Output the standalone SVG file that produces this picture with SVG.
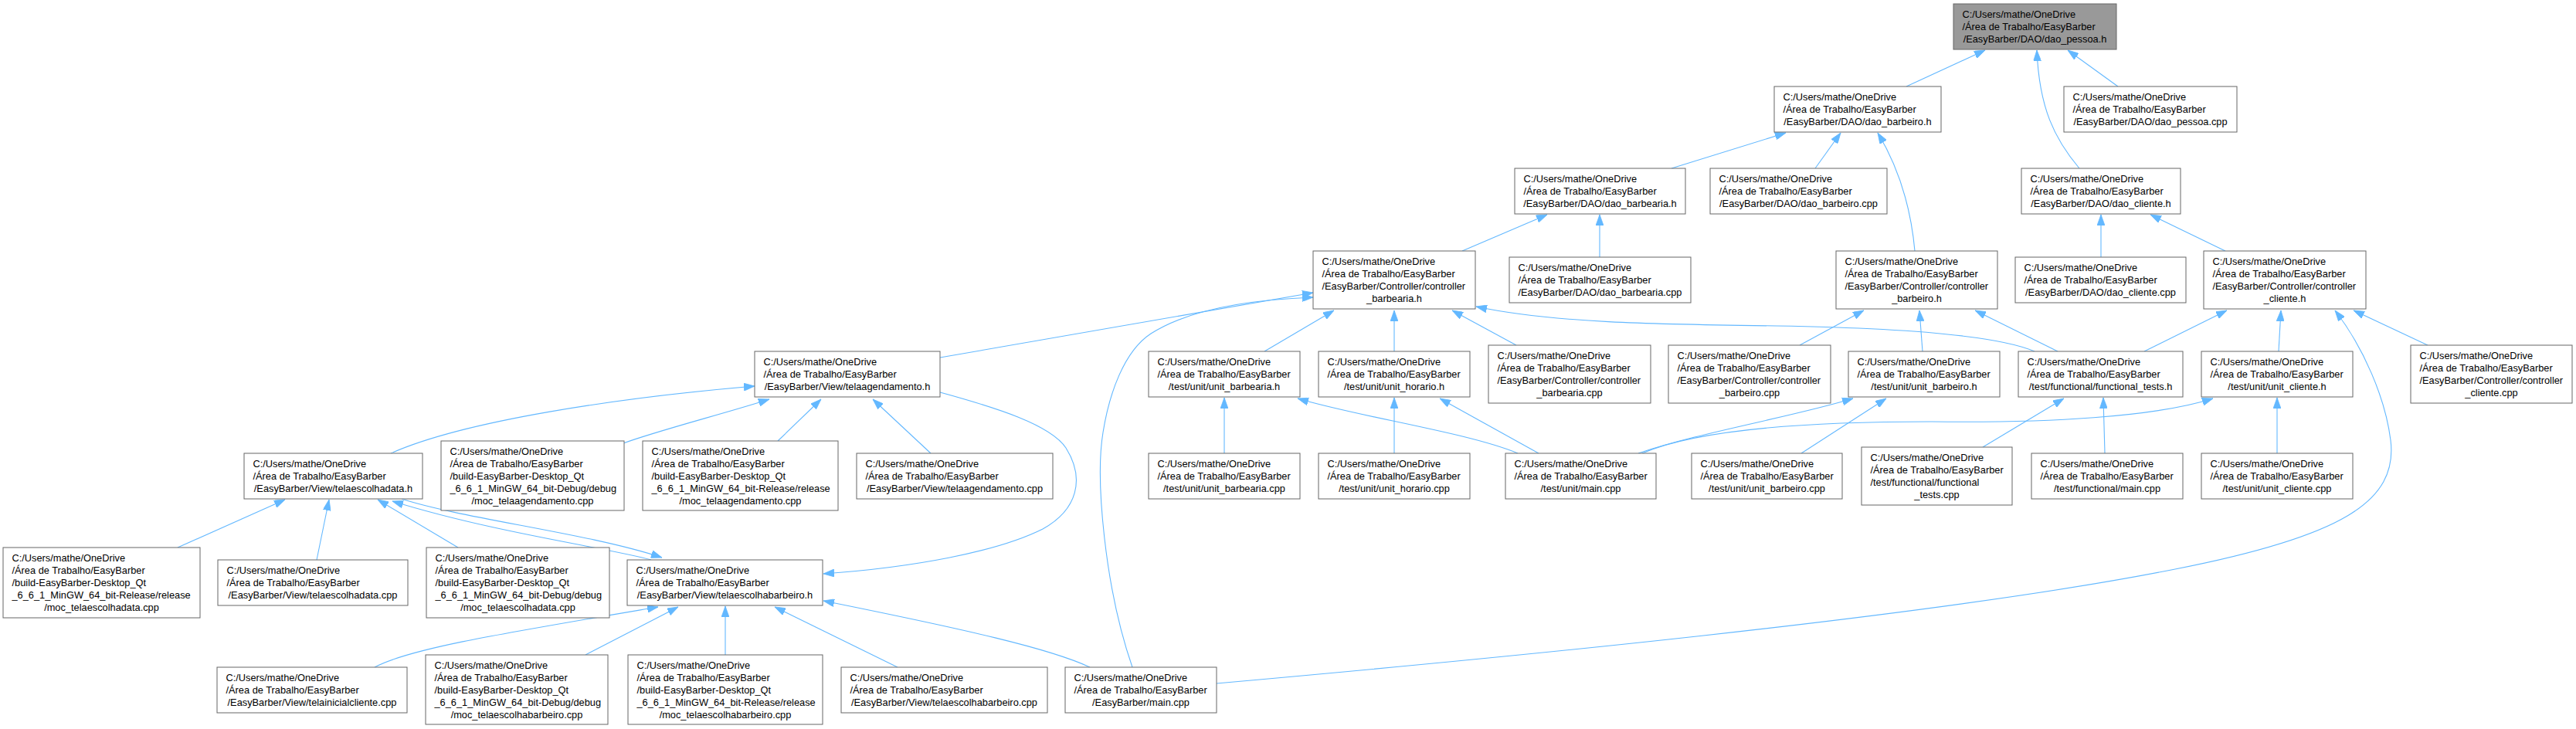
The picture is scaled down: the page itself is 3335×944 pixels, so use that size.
<svg xmlns="http://www.w3.org/2000/svg" width="3335" height="944" viewBox="0 0 3335 944">
<style>
.n rect{fill:#fff;stroke:#666;stroke-width:1}
#n0 rect{fill:#999}
.n text{font-family:"Liberation Sans",Arial,Helvetica,sans-serif;font-size:12.8px;fill:#000}
.n text.c{text-anchor:middle}
#edges path{fill:none;stroke:#63b8ff;stroke-width:1.1;marker-end:url(#ah)}
</style>
<defs>
<marker id="ah" viewBox="0 0 14 10" refX="14" refY="5" markerWidth="14" markerHeight="10" orient="auto" markerUnits="userSpaceOnUse"><path d="M0,0 L14,5 L0,10 z" fill="#63b8ff" stroke="#63b8ff" stroke-width="0.8"/></marker>
</defs>
<rect width="3335" height="944" fill="#fff"/>
<g id="edges">
<path d="M2468,112 L2570,65"/>
<path d="M2692,218 C2660,180 2640,140 2637,65"/>
<path d="M2742,112 L2677,65"/>
<path d="M2164,218 L2312,172"/>
<path d="M2350,218 L2383,172"/>
<path d="M2479,325 C2474,270 2460,220 2431,172"/>
<path d="M1893,325 L2003,278"/>
<path d="M2071,333 L2071,278"/>
<path d="M2720,333 L2720,278"/>
<path d="M2881,325 L2784,278"/>
<path d="M1217,463 L1700,379"/>
<path d="M1466,864 C1430,760 1418,620 1428,560 C1436,510 1455,455 1490,432 C1540,400 1620,388 1700,385"/>
<path d="M1637,455 L1727,402"/>
<path d="M1805,455 L1805,402"/>
<path d="M1963,447 L1880,402"/>
<path d="M2634,455 C2590,436 2480,425 2300,422 C2140,420 2010,418 1911,397"/>
<path d="M2330,447 L2413,402"/>
<path d="M2489,455 L2485,402"/>
<path d="M2664,455 L2557,402"/>
<path d="M2776,455 L2883,402"/>
<path d="M2950,455 L2953,402"/>
<path d="M3143,447 L3047,402"/>
<path d="M1575,885 C1900,856 2500,800 2816,737 C3030,695 3105,650 3095,570 C3088,515 3060,450 3023,402"/>
<path d="M506,587 C600,545 800,515 977,500"/>
<path d="M807,574 C850,558 940,535 996,517"/>
<path d="M1007,571 L1063,517"/>
<path d="M1205,587 L1130,517"/>
<path d="M1217,508 C1290,528 1360,550 1380,580 C1405,620 1395,660 1350,685 C1290,715 1180,735 1066,743"/>
<path d="M843,725 C790,710 640,690 508,649"/>
<path d="M520,646 C600,672 760,690 857,722"/>
<path d="M230,709 L369,647"/>
<path d="M410,725 L426,647"/>
<path d="M593,709 L489,647"/>
<path d="M485,864 C530,840 640,822 852,786"/>
<path d="M758,848 L878,786"/>
<path d="M939,848 L939,785"/>
<path d="M1162,864 L1003,786"/>
<path d="M1411,864 C1360,840 1250,815 1066,778"/>
<path d="M1585,587 L1585,515"/>
<path d="M1965,587 C1900,560 1760,540 1680,516"/>
<path d="M1805,587 L1805,515"/>
<path d="M1992,587 L1864,516"/>
<path d="M2121,587 C2200,560 2320,540 2399,516"/>
<path d="M2332,587 L2442,516"/>
<path d="M2126,587 C2200,555 2350,546 2500,546 C2650,548 2790,540 2865,516"/>
<path d="M2567,579 L2672,516"/>
<path d="M2725,587 L2723,515"/>
<path d="M2948,587 L2948,515"/>
</g>
<g id="n0" class="n"><rect x="2529" y="5" width="211" height="59"/><text x="2540.5" y="23">C:/Users/mathe/OneDrive</text><text x="2540.5" y="39">/Área de Trabalho/EasyBarber</text><text class="c" x="2634.5" y="55">/EasyBarber/DAO/dao_pessoa.h</text></g>
<g id="n1" class="n"><rect x="2297" y="112" width="216" height="59"/><text x="2308.5" y="130">C:/Users/mathe/OneDrive</text><text x="2308.5" y="146">/Área de Trabalho/EasyBarber</text><text class="c" x="2405" y="162">/EasyBarber/DAO/dao_barbeiro.h</text></g>
<g id="n2" class="n"><rect x="2672" y="112" width="224" height="59"/><text x="2683.5" y="130">C:/Users/mathe/OneDrive</text><text x="2683.5" y="146">/Área de Trabalho/EasyBarber</text><text class="c" x="2784" y="162">/EasyBarber/DAO/dao_pessoa.cpp</text></g>
<g id="n3" class="n"><rect x="1961" y="218" width="221" height="59"/><text x="1972.5" y="236">C:/Users/mathe/OneDrive</text><text x="1972.5" y="252">/Área de Trabalho/EasyBarber</text><text class="c" x="2071.5" y="268">/EasyBarber/DAO/dao_barbearia.h</text></g>
<g id="n4" class="n"><rect x="2214" y="218" width="229" height="59"/><text x="2225.5" y="236">C:/Users/mathe/OneDrive</text><text x="2225.5" y="252">/Área de Trabalho/EasyBarber</text><text class="c" x="2328.5" y="268">/EasyBarber/DAO/dao_barbeiro.cpp</text></g>
<g id="n5" class="n"><rect x="2617" y="218" width="206" height="59"/><text x="2628.5" y="236">C:/Users/mathe/OneDrive</text><text x="2628.5" y="252">/Área de Trabalho/EasyBarber</text><text class="c" x="2720" y="268">/EasyBarber/DAO/dao_cliente.h</text></g>
<g id="n6" class="n"><rect x="1700" y="325" width="210" height="75"/><text x="1711.5" y="343">C:/Users/mathe/OneDrive</text><text x="1711.5" y="359">/Área de Trabalho/EasyBarber</text><text x="1711.5" y="375">/EasyBarber/Controller/controller</text><text class="c" x="1805" y="391">_barbearia.h</text></g>
<g id="n7" class="n"><rect x="1954" y="333" width="235" height="59"/><text x="1965.5" y="351">C:/Users/mathe/OneDrive</text><text x="1965.5" y="367">/Área de Trabalho/EasyBarber</text><text class="c" x="2071.5" y="383">/EasyBarber/DAO/dao_barbearia.cpp</text></g>
<g id="n8" class="n"><rect x="2377" y="325" width="209" height="75"/><text x="2388.5" y="343">C:/Users/mathe/OneDrive</text><text x="2388.5" y="359">/Área de Trabalho/EasyBarber</text><text x="2388.5" y="375">/EasyBarber/Controller/controller</text><text class="c" x="2481.5" y="391">_barbeiro.h</text></g>
<g id="n9" class="n"><rect x="2609" y="333" width="221" height="59"/><text x="2620.5" y="351">C:/Users/mathe/OneDrive</text><text x="2620.5" y="367">/Área de Trabalho/EasyBarber</text><text class="c" x="2719.5" y="383">/EasyBarber/DAO/dao_cliente.cpp</text></g>
<g id="n10" class="n"><rect x="2853" y="325" width="210" height="75"/><text x="2864.5" y="343">C:/Users/mathe/OneDrive</text><text x="2864.5" y="359">/Área de Trabalho/EasyBarber</text><text x="2864.5" y="375">/EasyBarber/Controller/controller</text><text class="c" x="2958" y="391">_cliente.h</text></g>
<g id="n11" class="n"><rect x="977" y="455" width="240" height="59"/><text x="988.5" y="473">C:/Users/mathe/OneDrive</text><text x="988.5" y="489">/Área de Trabalho/EasyBarber</text><text class="c" x="1097" y="505">/EasyBarber/View/telaagendamento.h</text></g>
<g id="n12" class="n"><rect x="1487" y="455" width="196" height="59"/><text x="1498.5" y="473">C:/Users/mathe/OneDrive</text><text x="1498.5" y="489">/Área de Trabalho/EasyBarber</text><text class="c" x="1585" y="505">/test/unit/unit_barbearia.h</text></g>
<g id="n13" class="n"><rect x="1707" y="455" width="196" height="59"/><text x="1718.5" y="473">C:/Users/mathe/OneDrive</text><text x="1718.5" y="489">/Área de Trabalho/EasyBarber</text><text class="c" x="1805" y="505">/test/unit/unit_horario.h</text></g>
<g id="n14" class="n"><rect x="1927" y="447" width="210" height="75"/><text x="1938.5" y="465">C:/Users/mathe/OneDrive</text><text x="1938.5" y="481">/Área de Trabalho/EasyBarber</text><text x="1938.5" y="497">/EasyBarber/Controller/controller</text><text class="c" x="2032" y="513">_barbearia.cpp</text></g>
<g id="n15" class="n"><rect x="2160" y="447" width="210" height="75"/><text x="2171.5" y="465">C:/Users/mathe/OneDrive</text><text x="2171.5" y="481">/Área de Trabalho/EasyBarber</text><text x="2171.5" y="497">/EasyBarber/Controller/controller</text><text class="c" x="2265" y="513">_barbeiro.cpp</text></g>
<g id="n16" class="n"><rect x="2393" y="455" width="196" height="59"/><text x="2404.5" y="473">C:/Users/mathe/OneDrive</text><text x="2404.5" y="489">/Área de Trabalho/EasyBarber</text><text class="c" x="2491" y="505">/test/unit/unit_barbeiro.h</text></g>
<g id="n17" class="n"><rect x="2613" y="455" width="213" height="59"/><text x="2624.5" y="473">C:/Users/mathe/OneDrive</text><text x="2624.5" y="489">/Área de Trabalho/EasyBarber</text><text class="c" x="2719.5" y="505">/test/functional/functional_tests.h</text></g>
<g id="n18" class="n"><rect x="2850" y="455" width="196" height="59"/><text x="2861.5" y="473">C:/Users/mathe/OneDrive</text><text x="2861.5" y="489">/Área de Trabalho/EasyBarber</text><text class="c" x="2948" y="505">/test/unit/unit_cliente.h</text></g>
<g id="n19" class="n"><rect x="3121" y="447" width="209" height="75"/><text x="3132.5" y="465">C:/Users/mathe/OneDrive</text><text x="3132.5" y="481">/Área de Trabalho/EasyBarber</text><text x="3132.5" y="497">/EasyBarber/Controller/controller</text><text class="c" x="3225.5" y="513">_cliente.cpp</text></g>
<g id="n20" class="n"><rect x="316" y="587" width="231" height="59"/><text x="327.5" y="605">C:/Users/mathe/OneDrive</text><text x="327.5" y="621">/Área de Trabalho/EasyBarber</text><text class="c" x="431.5" y="637">/EasyBarber/View/telaescolhadata.h</text></g>
<g id="n21" class="n"><rect x="571" y="571" width="237" height="90"/><text x="582.5" y="589">C:/Users/mathe/OneDrive</text><text x="582.5" y="605">/Área de Trabalho/EasyBarber</text><text x="582.5" y="621">/build-EasyBarber-Desktop_Qt</text><text x="582.5" y="637">_6_6_1_MinGW_64_bit-Debug/debug</text><text class="c" x="689.5" y="653">/moc_telaagendamento.cpp</text></g>
<g id="n22" class="n"><rect x="832" y="571" width="253" height="90"/><text x="843.5" y="589">C:/Users/mathe/OneDrive</text><text x="843.5" y="605">/Área de Trabalho/EasyBarber</text><text x="843.5" y="621">/build-EasyBarber-Desktop_Qt</text><text x="843.5" y="637">_6_6_1_MinGW_64_bit-Release/release</text><text class="c" x="958.5" y="653">/moc_telaagendamento.cpp</text></g>
<g id="n23" class="n"><rect x="1109" y="587" width="254" height="59"/><text x="1120.5" y="605">C:/Users/mathe/OneDrive</text><text x="1120.5" y="621">/Área de Trabalho/EasyBarber</text><text class="c" x="1236" y="637">/EasyBarber/View/telaagendamento.cpp</text></g>
<g id="n24" class="n"><rect x="1487" y="587" width="196" height="59"/><text x="1498.5" y="605">C:/Users/mathe/OneDrive</text><text x="1498.5" y="621">/Área de Trabalho/EasyBarber</text><text class="c" x="1585" y="637">/test/unit/unit_barbearia.cpp</text></g>
<g id="n25" class="n"><rect x="1707" y="587" width="196" height="59"/><text x="1718.5" y="605">C:/Users/mathe/OneDrive</text><text x="1718.5" y="621">/Área de Trabalho/EasyBarber</text><text class="c" x="1805" y="637">/test/unit/unit_horario.cpp</text></g>
<g id="n26" class="n"><rect x="1949" y="587" width="195" height="59"/><text x="1960.5" y="605">C:/Users/mathe/OneDrive</text><text x="1960.5" y="621">/Área de Trabalho/EasyBarber</text><text class="c" x="2046.5" y="637">/test/unit/main.cpp</text></g>
<g id="n27" class="n"><rect x="2190" y="587" width="195" height="59"/><text x="2201.5" y="605">C:/Users/mathe/OneDrive</text><text x="2201.5" y="621">/Área de Trabalho/EasyBarber</text><text class="c" x="2287.5" y="637">/test/unit/unit_barbeiro.cpp</text></g>
<g id="n28" class="n"><rect x="2410" y="579" width="195" height="75"/><text x="2421.5" y="597">C:/Users/mathe/OneDrive</text><text x="2421.5" y="613">/Área de Trabalho/EasyBarber</text><text x="2421.5" y="629">/test/functional/functional</text><text class="c" x="2507.5" y="645">_tests.cpp</text></g>
<g id="n29" class="n"><rect x="2630" y="587" width="196" height="59"/><text x="2641.5" y="605">C:/Users/mathe/OneDrive</text><text x="2641.5" y="621">/Área de Trabalho/EasyBarber</text><text class="c" x="2728" y="637">/test/functional/main.cpp</text></g>
<g id="n30" class="n"><rect x="2850" y="587" width="196" height="59"/><text x="2861.5" y="605">C:/Users/mathe/OneDrive</text><text x="2861.5" y="621">/Área de Trabalho/EasyBarber</text><text class="c" x="2948" y="637">/test/unit/unit_cliente.cpp</text></g>
<g id="n31" class="n"><rect x="4" y="709" width="255" height="91"/><text x="15.5" y="727">C:/Users/mathe/OneDrive</text><text x="15.5" y="743">/Área de Trabalho/EasyBarber</text><text x="15.5" y="759">/build-EasyBarber-Desktop_Qt</text><text x="15.5" y="775">_6_6_1_MinGW_64_bit-Release/release</text><text class="c" x="131.5" y="791">/moc_telaescolhadata.cpp</text></g>
<g id="n32" class="n"><rect x="282" y="725" width="246" height="59"/><text x="293.5" y="743">C:/Users/mathe/OneDrive</text><text x="293.5" y="759">/Área de Trabalho/EasyBarber</text><text class="c" x="405" y="775">/EasyBarber/View/telaescolhadata.cpp</text></g>
<g id="n33" class="n"><rect x="552" y="709" width="237" height="91"/><text x="563.5" y="727">C:/Users/mathe/OneDrive</text><text x="563.5" y="743">/Área de Trabalho/EasyBarber</text><text x="563.5" y="759">/build-EasyBarber-Desktop_Qt</text><text x="563.5" y="775">_6_6_1_MinGW_64_bit-Debug/debug</text><text class="c" x="670.5" y="791">/moc_telaescolhadata.cpp</text></g>
<g id="n34" class="n"><rect x="812" y="725" width="253" height="59"/><text x="823.5" y="743">C:/Users/mathe/OneDrive</text><text x="823.5" y="759">/Área de Trabalho/EasyBarber</text><text class="c" x="938.5" y="775">/EasyBarber/View/telaescolhabarbeiro.h</text></g>
<g id="n35" class="n"><rect x="281" y="864" width="246" height="59"/><text x="292.5" y="882">C:/Users/mathe/OneDrive</text><text x="292.5" y="898">/Área de Trabalho/EasyBarber</text><text class="c" x="404" y="914">/EasyBarber/View/telainicialcliente.cpp</text></g>
<g id="n36" class="n"><rect x="551" y="848" width="236" height="90"/><text x="562.5" y="866">C:/Users/mathe/OneDrive</text><text x="562.5" y="882">/Área de Trabalho/EasyBarber</text><text x="562.5" y="898">/build-EasyBarber-Desktop_Qt</text><text x="562.5" y="914">_6_6_1_MinGW_64_bit-Debug/debug</text><text class="c" x="669" y="930">/moc_telaescolhabarbeiro.cpp</text></g>
<g id="n37" class="n"><rect x="813" y="848" width="252" height="90"/><text x="824.5" y="866">C:/Users/mathe/OneDrive</text><text x="824.5" y="882">/Área de Trabalho/EasyBarber</text><text x="824.5" y="898">/build-EasyBarber-Desktop_Qt</text><text x="824.5" y="914">_6_6_1_MinGW_64_bit-Release/release</text><text class="c" x="939" y="930">/moc_telaescolhabarbeiro.cpp</text></g>
<g id="n38" class="n"><rect x="1089" y="864" width="267" height="59"/><text x="1100.5" y="882">C:/Users/mathe/OneDrive</text><text x="1100.5" y="898">/Área de Trabalho/EasyBarber</text><text class="c" x="1222.5" y="914">/EasyBarber/View/telaescolhabarbeiro.cpp</text></g>
<g id="n39" class="n"><rect x="1379" y="864" width="196" height="59"/><text x="1390.5" y="882">C:/Users/mathe/OneDrive</text><text x="1390.5" y="898">/Área de Trabalho/EasyBarber</text><text class="c" x="1477" y="914">/EasyBarber/main.cpp</text></g>
</svg>
